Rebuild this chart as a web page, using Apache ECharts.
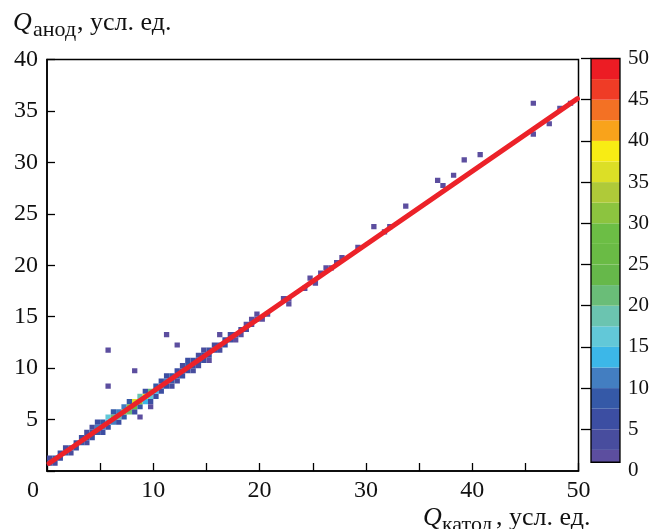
<!DOCTYPE html>
<html><head><meta charset="utf-8">
<script src="https://cdn.jsdelivr.net/npm/echarts@6/dist/echarts.min.js"></script>
<style>html,body{margin:0;padding:0;background:#fff}#c{width:652px;height:529px}</style>
</head><body><div id="c"></div>
<script>
// ---- data: 2D histogram cells (lower-left corner of each 0.5 x 0.5 bin) ----
const cellX = [
  0,0,0.5,0.5,1,1,1.5,1.5,2,2,2.5,2.5,3,3,3.5,3.5,3.5,4,4,4,
  4.5,4.5,4.5,5,5,5,5.5,5.5,5.5,6,6,6,6.5,6.5,6.5,7,7,7,7.5,7.5,7.5,
  8,8,8,8.5,8.5,8.5,9,9,9,9.5,9.5,9.5,10,10,10,10.5,10.5,10.5,
  11,11,11,11.5,11.5,12,12,12,12.5,12.5,13,13,13,13.5,13.5,13.5,
  14,14,14.5,14.5,14.5,15,15,15.5,15.5,16,16,16.5,16.5,17,17,17.5,17.5,
  18,18,18.5,18.5,19,19,19.5,19.5,20,20.5,
  11.5,12.5,14,15,
  5.5,5.5,8,8.5,9.5,11,12,16,
  22,22.5,22.5,24,24.5,25,25.5,26,26.5,27,27.5,29,30.5,31.5,32,33.5,
  36.5,37,38,39,40.5,45.5,45.5,47,48,49
];
const cellY = [
  0.5,1,0.5,1,1,1.5,1.5,2,1.5,2,2,2.5,2.5,3,2.5,3,3.5,3,3.5,4,
  3.5,4,4.5,3.5,4,4.5,4,4.5,5,4.5,5,5.5,4.5,5,5.5,5,5.5,6,5.5,6,6.5,
  5.5,6,6.5,6,6.5,7,6.5,7,7.5,6.5,7,7.5,7,7.5,8,7.5,8,8.5,
  8,8.5,9,8.5,9,8.5,9,9.5,9,9.5,9.5,10,10.5,9.5,10,10.5,
  10.5,11,10.5,11,11.5,11,11.5,11.5,12,11.5,12,12,12.5,12.5,13,12.5,13,
  13,13.5,13.5,14,14,14.5,14.5,15,14.5,15,
  8,10,10,10.5,
  11.5,8,9.5,5,6,13,12,13,
  16.5,16.5,16,17.5,18.5,18,19,19.5,19.5,20,20.5,21.5,23.5,23,23.5,25.5,
  28,27.5,28.5,30,30.5,35.5,32.5,33.5,35,35.5
];
const cellCount = [
  9,3,3,8,7,5,8,3,3,8,6,7,8,5,3,9,4,5,9,3,
  8,10,6,6,12,9,7,14,16,10,22,8,6,18,12,9,27,11,20,32,8,
  6,28,37,9,30,18,14,38,7,7,16,22,6,13,9,7,12,5,
  6,10,5,8,9,4,8,6,5,9,6,8,5,3,7,6,
  8,4,5,7,3,6,6,7,4,3,6,5,5,6,3,2,4,
  2,3,3,2,2,2,2,1,1,1,
  3,3,3,2,
  1,1,1,1,1,1,1,1,
  1,1,1,1,1,1,1,1,1,1,1,1,1,1,1,1,
  1,1,1,1,1,1,1,1,1,1
];
const binSize = [0.5, 0.5];

// ---- linear fit line ----
const fitX = [0.2, 49.9];
const fitY = [0.75, 36.2];

// ---- axes / colour scale ----
const xLabelValues = [0, 10, 20, 30, 40, 50];
const yLabelValues = [5, 10, 15, 20, 25, 30, 35, 40];
const paletteLevels = [1, 2.5, 5, 7.5, 10, 12.5, 15, 17.5, 20, 22.5, 25, 27.5, 30, 32.5, 35, 37.5, 40, 42.5, 45, 47.5, 50];
const paletteColors = ['#5C4E9F','#484D9E','#3C4EA2','#3559A7','#437EC1','#3CB7E8','#62C8D8','#6BC4B0','#6ABD78','#66B84A','#6ABB45','#6CBE45','#8CC43F','#AFCA39','#DCDF26','#F8EC14','#F9A31B','#F37124','#EF3C26','#EC1C24'];
const colorbarLabels = [0, 5, 10, 15, 20, 25, 30, 35, 40, 45, 50];
const colorbarTicks = [5, 10, 15, 20, 25, 30, 35, 40, 45, 50];

const serif = 'Liberation Serif';
const chart = echarts.init(document.getElementById('c'), null, {renderer: 'canvas'});

const pieces = paletteColors.map((c, i) => {
  const p = {color: c};
  p.gte = i === 0 ? 0 : paletteLevels[i];
  if (i === paletteColors.length - 1) p.lte = 1000; else p.lt = paletteLevels[i + 1];
  return p;
});

const cells = cellX.map((x, i) => [x, cellY[i], cellCount[i]]);
const bands = paletteColors.map((c, i) => [paletteLevels[i], paletteLevels[i + 1], i]);

const axisLineStyle = {color: '#000', width: 1.5};
const labelStyle = {fontFamily: serif, fontSize: 24, color: '#111'};

chart.setOption({
  animation: false,
  backgroundColor: '#fff',
  grid: [
    {left: 47, right: 73.5, top: 59.5, bottom: 58, show: true, borderColor: '#000', borderWidth: 1.5, backgroundColor: 'transparent'},
    {left: 591, right: 30, top: 58.5, bottom: 58.5}
  ],
  visualMap: {type: 'piecewise', show: false, seriesIndex: 0, dimension: 2, pieces: pieces},
  xAxis: [
    {type: 'value', min: 0, max: 50, interval: 5, gridIndex: 0,
     axisLine: {onZero: false, lineStyle: axisLineStyle},
     axisTick: {inside: true, length: 8, lineStyle: {color: '#000', width: 1.3}},
     axisLabel: Object.assign({}, labelStyle, {margin: 8,
       formatter: v => xLabelValues.indexOf(v) < 0 ? '' : (v === 0 ? '{z|0}' : String(v)),
       rich: {z: {fontFamily: serif, fontSize: 24, color: '#111', padding: [0, 28, 0, 0]}}}),
     splitLine: {show: false}},
    {type: 'value', min: 0, max: 1, gridIndex: 1, show: false}
  ],
  yAxis: [
    {type: 'value', min: 0, max: 40, interval: 5, gridIndex: 0,
     axisLine: {onZero: false, lineStyle: axisLineStyle},
     axisTick: {inside: true, length: 8, lineStyle: {color: '#000', width: 1.3}},
     axisLabel: Object.assign({}, labelStyle, {margin: 9,
       formatter: v => yLabelValues.indexOf(v) < 0 ? '' : String(v)}),
     splitLine: {show: false}},
    {type: 'value', min: 0, max: 50, interval: 5, gridIndex: 1, position: 'right',
     axisLine: {show: false},
     axisTick: {show: true, inside: true, length: 10, customValues: colorbarTicks, lineStyle: {color: '#000', width: 1.3}},
     axisLabel: {fontFamily: serif, fontSize: 21, color: '#111', margin: 8, customValues: colorbarLabels},
     splitLine: {show: false}}
  ],
  series: [
    {
      type: 'custom', xAxisIndex: 0, yAxisIndex: 0, data: cells, encode: {x: 0, y: 1}, clip: true, z: 2,
      renderItem: (params, api) => {
        const x = api.value(0), y = api.value(1);
        const p0 = api.coord([x, y + binSize[1]]);
        const p1 = api.coord([x + binSize[0], y]);
        return {type: 'rect', shape: {x: p0[0], y: p0[1], width: p1[0] - p0[0], height: p1[1] - p0[1]},
                style: {fill: api.visual('color')}};
      }
    },
    {
      type: 'line', xAxisIndex: 0, yAxisIndex: 0, data: fitX.map((x, i) => [x, fitY[i]]),
      symbol: 'none', z: 5, lineStyle: {color: '#EC2229', width: 5, cap: 'round'}
    },
    {
      type: 'custom', xAxisIndex: 1, yAxisIndex: 1, data: bands, z: 2, silent: true,
      renderItem: (params, api) => {
        const lo = api.value(0), hi = api.value(1), idx = api.value(2);
        const p0 = api.coord([0, hi]);
        const p1 = api.coord([1, lo]);
        return {type: 'rect', shape: {x: p0[0], y: p0[1], width: p1[0] - p0[0], height: p1[1] - p0[1]},
                style: {fill: paletteColors[idx]}};
      }
    },
    {
      type: 'custom', xAxisIndex: 1, yAxisIndex: 1, data: [[paletteLevels[0], paletteLevels[paletteLevels.length - 1]]], z: 3, silent: true,
      renderItem: (params, api) => {
        const p0 = api.coord([0, api.value(1)]);
        const p1 = api.coord([1, api.value(0)]);
        return {type: 'rect', shape: {x: p0[0], y: p0[1], width: p1[0] - p0[0], height: p1[1] - p0[1]},
                style: {fill: 'none', stroke: '#000', lineWidth: 1.3}};
      }
    }
  ],
  graphic: [
    {type: 'text', x: 13, y: 23, style: {text: 'Q', font: 'italic 26px "Liberation Serif"', fill: '#111', verticalAlign: 'middle'}},
    {type: 'text', x: 33, y: 30, style: {text: 'анод', font: '22px "Liberation Serif"', fill: '#111', verticalAlign: 'middle'}},
    {type: 'text', x: 77, y: 23, style: {text: ', усл. ед.', font: '26px "Liberation Serif"', fill: '#111', verticalAlign: 'middle'}},
    {type: 'text', x: 423, y: 518, style: {text: 'Q', font: 'italic 26px "Liberation Serif"', fill: '#111', verticalAlign: 'middle'}},
    {type: 'text', x: 442, y: 525, style: {text: 'катод', font: '22px "Liberation Serif"', fill: '#111', verticalAlign: 'middle'}},
    {type: 'text', x: 496, y: 518, style: {text: ', усл. ед.', font: '26px "Liberation Serif"', fill: '#111', verticalAlign: 'middle'}}
  ]
});
</script>
</body></html>
